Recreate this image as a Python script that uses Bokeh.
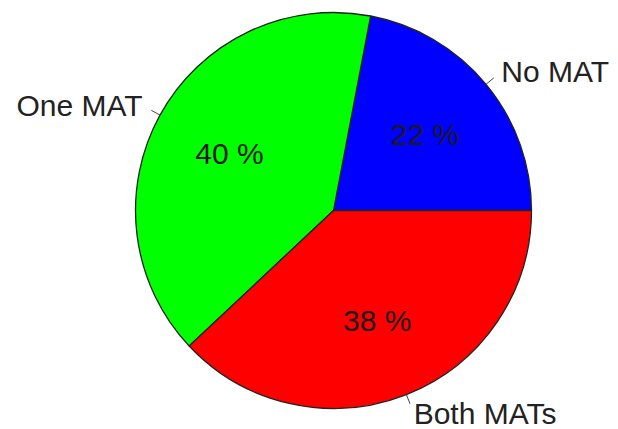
import numpy as np
from bokeh.plotting import figure
from bokeh.models import Range1d, ColumnDataSource
from bokeh.core.properties import value
from bokeh.embed import file_html
from bokeh.resources import INLINE

categories = ["No MAT", "One MAT", "Both MATs"]
shares = [22, 40, 38]
colors = ["#0000FF", "#00FF00", "#FF0000"]

W, H = 618, 429
CX, CY, R = 333, H - 210, 198

vals = np.array(shares, dtype=float)
frac = vals / vals.sum()
ends = np.cumsum(frac) * 2 * np.pi
starts = ends - frac * 2 * np.pi
mids = (starts + ends) / 2

p = figure(width=W, height=H, x_range=Range1d(0, W), y_range=Range1d(0, H),
           x_axis_type=None, y_axis_type=None, output_backend="svg",
           toolbar_location=None, min_border=0)
p.grid.visible = False
p.outline_line_color = None
p.background_fill_color = "white"

src = ColumnDataSource(dict(start=starts, end=ends, color=colors))
p.wedge(x=CX, y=CY, radius=R, start_angle="start", end_angle="end",
        fill_color="color", line_color="#222222", line_width=1.3, source=src)

# leader ticks
p.segment(x0=CX + R * np.cos(mids), y0=CY + R * np.sin(mids),
          x1=CX + 1.05 * R * np.cos(mids), y1=CY + 1.05 * R * np.sin(mids),
          line_color="#444444", line_width=1)

# outside labels
lx = CX + 1.1 * R * np.cos(mids)
ly = CY + 1.1 * R * np.sin(mids)
align = ["right" if np.cos(m) < 0 else "left" for m in mids]
p.text(x=lx, y=ly, text=categories, text_align=align, text_baseline="middle",
       text_font=value("Liberation Sans"), text_font_size="30px", text_color="#222222")

# percentages inside
pr = 0.6 * R
pct = [f"{int(round(v))} %" for v in frac * 100]
p.text(x=CX + pr * np.cos(mids), y=CY + pr * np.sin(mids), text=pct,
       text_align="center", text_baseline="middle",
       text_font=value("Liberation Sans"), text_font_size="30px", text_color="#1a1a1a")

open("out.html", "w").write(file_html(p, INLINE))
